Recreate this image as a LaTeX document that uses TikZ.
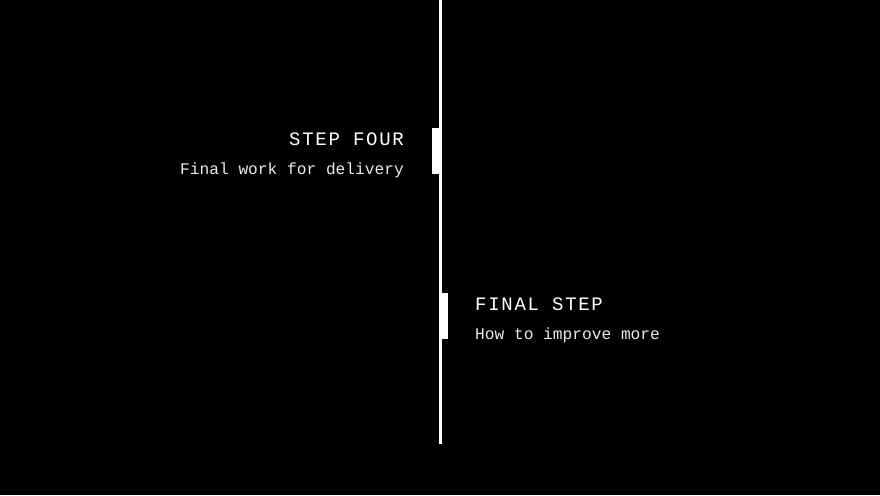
\documentclass[tikz,border=0pt]{standalone}
\usepackage{fontspec}
\setmonofont{Liberation Mono}
\newfontfamily\titlefont[LetterSpace=9]{Liberation Mono}
\newfontfamily\subfont{Liberation Mono}
\begin{document}
\begin{tikzpicture}[x=1pt,y=-1pt,
  title/.style={text=white,font=\titlefont\fontsize{19}{22}\selectfont,inner sep=0pt},
  sub/.style={text=white!92!black,font=\subfont\fontsize{16.2}{19}\selectfont,inner sep=0pt},
  mark bar/.style={fill=white,draw=none}]
\fill[black] (0,0) rectangle (880,495);
\useasboundingbox (0,0) rectangle (880,495);
\fill[white] (438.5,0) rectangle (441.5,444);
\fill[mark bar] (432,128) rectangle (439,174);
\fill[mark bar] (441,293) rectangle (448,339);
\node[title,anchor=base east] (t1) at (404,145) {STEP FOUR};
\node[sub,anchor=base east] (s1) at (404,174) {Final work for delivery};
\node[title,anchor=base west] (t2) at (475,310) {FINAL STEP};
\node[sub,anchor=base west] (s2) at (475,339) {How to improve more};
\end{tikzpicture}
\end{document}
